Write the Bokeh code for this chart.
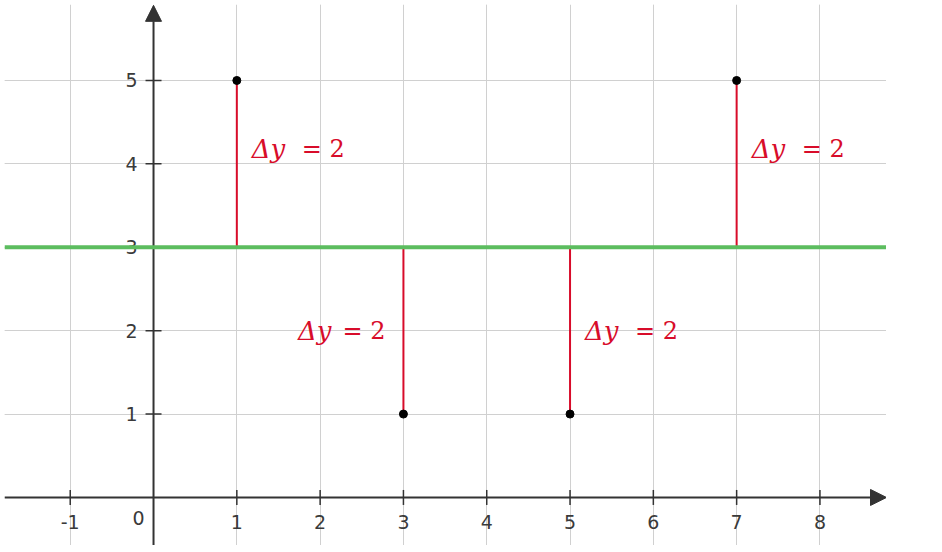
import math
from bokeh.plotting import figure
from bokeh.models import Range1d, Grid, FixedTicker, Span, Arrow, NormalHead
from bokeh.core.properties import value
from bokeh.embed import file_html
from bokeh.resources import INLINE

# data
px = [1, 3, 5, 7]
py = [5, 1, 1, 5]
mean_y = 3
labels = ["Δy", "Δy", "Δy", "Δy"]
label_rest = ["= 2", "= 2", "= 2", "= 2"]
label_side = ["right", "left", "right", "right"]
x_ticks = [-1, 1, 2, 3, 4, 5, 6, 7, 8]
y_ticks = [1, 2, 3, 4, 5]
x_tick_labels = [str(t) for t in x_ticks]
y_tick_labels = [str(t) for t in y_ticks]

X0, X1 = -1.789, 8.799
Y0, Y1 = -0.576, 5.911

p = figure(width=886, height=545, x_range=Range1d(X0, X1), y_range=Range1d(Y0, Y1),
           output_backend="svg", toolbar_location=None,
           x_axis_location=None, y_axis_location=None, min_border=0,
           min_border_left=4, min_border_top=4)
p.outline_line_color = None
p.background_fill_color = "white"

grid_color = "#d0d0d0"
p.add_layout(Grid(dimension=0, ticker=FixedTicker(ticks=x_ticks), grid_line_color=grid_color, grid_line_width=1))
p.add_layout(Grid(dimension=1, ticker=FixedTicker(ticks=y_ticks), grid_line_color=grid_color, grid_line_width=1))

axc = "#333333"
# axes
p.add_layout(Arrow(x_start=X0, y_start=0, x_end=X1, y_end=0, line_color=axc, line_width=2,
                   end=NormalHead(size=16, fill_color=axc, line_color=axc)))
p.add_layout(Arrow(x_start=0, y_start=Y0, x_end=0, y_end=Y1 - 0.01, line_color=axc, line_width=2,
                   end=NormalHead(size=16, fill_color=axc, line_color=axc)))
# ticks
p.scatter(x_ticks, [0] * len(x_ticks), marker="dash", angle=math.pi / 2, size=15, line_color=axc, line_width=1.5)
p.scatter([0] * len(y_ticks), y_ticks, marker="dash", size=16, line_color=axc, line_width=1.5)

tick_font = value("DejaVu Sans")
tcol = "#3a3a3a"
p.text(x_ticks, [0] * len(x_ticks), text=x_tick_labels, text_align="center", text_baseline="middle",
       y_offset=25, text_font=tick_font, text_font_size="19px", text_color=tcol)
p.text([0] * len(y_ticks), y_ticks, text=y_tick_labels, text_align="right", text_baseline="middle",
       x_offset=-16, text_font=tick_font, text_font_size="19px", text_color=tcol)
p.text([0], [0], text=["0"], text_align="right", text_baseline="middle", x_offset=-9, y_offset=21,
       text_font=tick_font, text_font_size="19px", text_color=tcol)

red = "#d80c2a"
green = "#5cbd5f"
# deviation segments
p.segment(px, [mean_y] * len(px), px, py, line_color=red, line_width=2)

# mean line
p.add_layout(Span(location=mean_y, dimension="width", line_color=green, line_width=4))

# points
p.scatter(px, py, size=8, fill_color="black", line_color="black")

# labels
fs = "26px"
fs2 = "24px"
serif = value("DejaVu Serif")
mid = [(mean_y + v) / 2 for v in py]
for xi, yi, m, side, a, b in zip(px, py, mid, label_side, labels, label_rest):
    yoff = -15 if yi > mean_y else 0
    if side == "right":
        p.text([xi], [m], text=[a], text_align="left", text_baseline="middle", x_offset=15, y_offset=yoff,
               text_font=serif, text_font_style="italic", text_font_size=fs, text_color=red)
        p.text([xi], [m], text=[b], text_align="left", text_baseline="middle", x_offset=65, y_offset=yoff,
               text_font=serif, text_font_size=fs2, text_color=red)
    else:
        p.text([xi], [m], text=[b], text_align="right", text_baseline="middle", x_offset=-18, y_offset=yoff,
               text_font=serif, text_font_size=fs2, text_color=red)
        p.text([xi], [m], text=[a], text_align="right", text_baseline="middle", x_offset=-72, y_offset=yoff,
               text_font=serif, text_font_style="italic", text_font_size=fs, text_color=red)

open("out.html", "w").write(file_html(p, INLINE))
